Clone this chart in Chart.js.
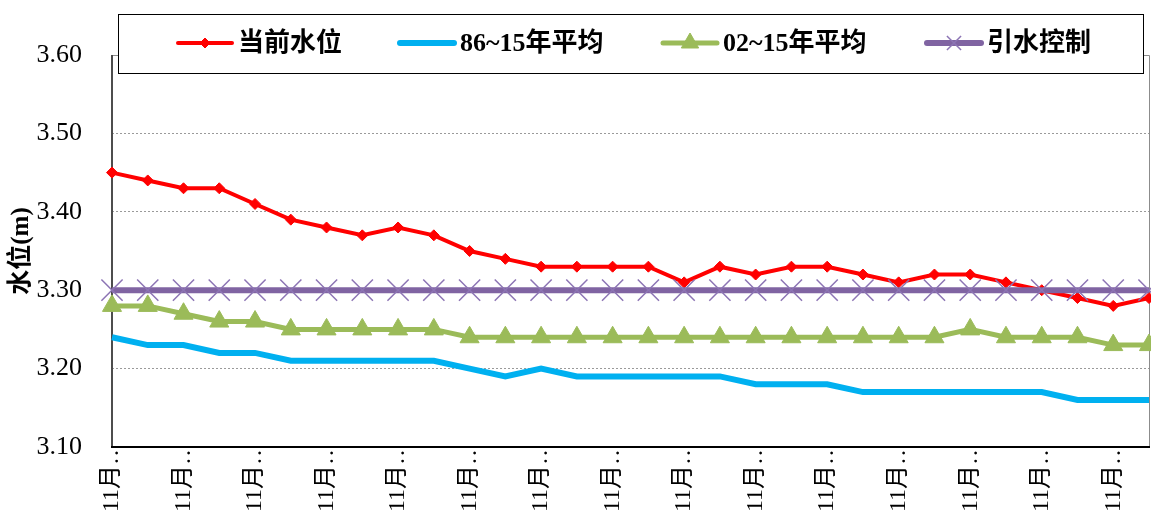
<!DOCTYPE html>
<html>
<head>
<meta charset="utf-8">
<script src="https://cdn.jsdelivr.net/npm/chart.js@4.4.0/dist/chart.umd.min.js"></script>
<style>
  html, body { margin: 0; padding: 0; background: #fff; }
  #wrap { width: 1151px; height: 513px; }
</style>
</head>
<body>
<div id="wrap"><canvas id="levelChart" width="1151" height="513"></canvas></div>
<script>
// 11月每日水位
const days = ['11月1日', '11月2日', '11月3日', '11月4日', '11月5日', '11月6日', '11月7日', '11月8日', '11月9日', '11月10日',
    '11月11日', '11月12日', '11月13日', '11月14日', '11月15日', '11月16日', '11月17日', '11月18日', '11月19日', '11月20日',
    '11月21日', '11月22日', '11月23日', '11月24日', '11月25日', '11月26日', '11月27日', '11月28日', '11月29日', '11月30日'];

const currentLevel = [3.45, 3.44, 3.43, 3.43, 3.41, 3.39, 3.38, 3.37, 3.38, 3.37,
    3.35, 3.34, 3.33, 3.33, 3.33, 3.33, 3.31, 3.33, 3.32, 3.33,
    3.33, 3.32, 3.31, 3.32, 3.32, 3.31, 3.30, 3.29, 3.28, 3.29];
const avg86to15 = [3.24, 3.23, 3.23, 3.22, 3.22, 3.21, 3.21, 3.21, 3.21, 3.21,
    3.20, 3.19, 3.20, 3.19, 3.19, 3.19, 3.19, 3.19, 3.18, 3.18,
    3.18, 3.17, 3.17, 3.17, 3.17, 3.17, 3.17, 3.16, 3.16, 3.16];
const avg02to15 = [3.28, 3.28, 3.27, 3.26, 3.26, 3.25, 3.25, 3.25, 3.25, 3.25,
    3.24, 3.24, 3.24, 3.24, 3.24, 3.24, 3.24, 3.24, 3.24, 3.24,
    3.24, 3.24, 3.24, 3.24, 3.25, 3.24, 3.24, 3.24, 3.23, 3.23];
const diversionLimit = [3.30, 3.30, 3.30, 3.30, 3.30, 3.30, 3.30, 3.30, 3.30, 3.30,
    3.30, 3.30, 3.30, 3.30, 3.30, 3.30, 3.30, 3.30, 3.30, 3.30,
    3.30, 3.30, 3.30, 3.30, 3.30, 3.30, 3.30, 3.30, 3.30, 3.30];

const seriesNames = ['当前水位', '86~15年平均', '02~15年平均', '引水控制'];

const SERIF = '"Liberation Serif", "Noto Sans CJK SC"';

// leyenda dibujada a mano dentro de un recuadro que pisa el área del gráfico
const LEGEND_X = [178, 400, 663, 927];
const LEGEND_R = [5, 0, 10, 10];

const boxLegend = {
    id: 'boxLegend',
    afterDraw(chart) {
        const ctx = chart.ctx;
        ctx.save();
        ctx.fillStyle = '#fff';
        ctx.fillRect(118.5, 14.5, 1025, 59);
        ctx.strokeStyle = '#000';
        ctx.lineWidth = 1;
        ctx.strokeRect(118.5, 14.5, 1025, 59);
        const y = 43;
        chart.data.datasets.forEach((ds, i) => {
            const x0 = LEGEND_X[i], x1 = x0 + 54;
            ctx.strokeStyle = ds.borderColor;
            ctx.lineWidth = ds.borderWidth;
            ctx.lineCap = 'round';
            ctx.beginPath();
            ctx.moveTo(x0, y);
            ctx.lineTo(x1, y);
            ctx.stroke();
            if (LEGEND_R[i] > 0) {
                ctx.lineCap = 'butt';
                ctx.fillStyle = ds.pointBackgroundColor;
                ctx.strokeStyle = ds.pointBorderColor;
                ctx.lineWidth = ds.pointBorderWidth;
                Chart.helpers.drawPoint(ctx, {
                    pointStyle: ds.pointStyle, radius: LEGEND_R[i], rotation: 0, borderWidth: ds.pointBorderWidth
                }, (x0 + x1) / 2, y);
            }
            ctx.fillStyle = '#000';
            ctx.font = 'bold 26px ' + SERIF;
            ctx.textAlign = 'left';
            ctx.textBaseline = 'middle';
            ctx.fillText(ds.label, x1 + 6, y + 1);
        });
        ctx.restore();
    }
};

// marco del área de trazado (ejes y borde gris)
const plotFrame = {
    id: 'plotFrame',
    beforeDatasetsDraw(chart) {
        const { ctx, chartArea: a } = chart;
        ctx.save();
        ctx.strokeStyle = '#8c8c8c';
        ctx.lineWidth = 1;
        ctx.beginPath();
        ctx.moveTo(a.left, a.top + 0.5);
        ctx.lineTo(a.right + 0.5, a.top + 0.5);
        ctx.lineTo(a.right + 0.5, a.bottom);
        ctx.stroke();
        ctx.strokeStyle = '#4d4d4d';
        ctx.lineWidth = 2;
        ctx.beginPath();
        ctx.moveTo(a.left, a.top);
        ctx.lineTo(a.left, a.bottom);
        ctx.stroke();
        ctx.strokeStyle = '#000';
        ctx.beginPath();
        ctx.moveTo(a.left - 1, a.bottom);
        ctx.lineTo(a.right + 1, a.bottom);
        ctx.stroke();
        ctx.restore();
    }
};

new Chart(document.getElementById('levelChart').getContext('2d'), {
    type: 'line',
    plugins: [plotFrame, boxLegend],
    data: {
        labels: days,
        datasets: [
            {
                label: seriesNames[0],
                data: currentLevel,
                borderColor: '#FF0000',
                backgroundColor: '#FF0000',
                borderWidth: 4,
                pointStyle: 'rectRot',
                pointRadius: 5.5,
                pointBackgroundColor: '#FF0000',
                pointBorderColor: '#FF0000',
                pointBorderWidth: 1,
                clip: false,
                order: 4
            },
            {
                label: seriesNames[1],
                data: avg86to15,
                borderColor: '#00B0F0',
                backgroundColor: '#00B0F0',
                borderWidth: 6,
                pointRadius: 0,
                pointBackgroundColor: '#00B0F0',
                pointBorderColor: '#00B0F0',
                pointBorderWidth: 0,
                clip: false,
                order: 3
            },
            {
                label: seriesNames[2],
                data: avg02to15,
                borderColor: '#9BBB59',
                backgroundColor: '#9BBB59',
                borderWidth: 5,
                pointStyle: 'triangle',
                pointRadius: 11,
                pointBackgroundColor: '#9BBB59',
                pointBorderColor: '#9BBB59',
                pointBorderWidth: 1,
                clip: false,
                order: 2
            },
            {
                label: seriesNames[3],
                data: diversionLimit,
                borderColor: '#8064A2',
                backgroundColor: '#8064A2',
                borderWidth: 6,
                pointStyle: 'crossRot',
                pointRadius: 15,
                pointBackgroundColor: '#8C74B4',
                pointBorderColor: '#8C74B4',
                pointBorderWidth: 1.5,
                clip: false,
                order: 1
            }
        ]
    },
    options: {
        responsive: false,
        animation: false,
        devicePixelRatio: 1,
        layout: { autoPadding: false, padding: { top: 55, right: 2, left: 0, bottom: 0 } },
        plugins: { legend: { display: false }, tooltip: { enabled: false } },
        elements: { line: { tension: 0 } },
        scales: {
            x: {
                offset: false,
                grid: { display: false, drawTicks: false },
                border: { display: false },
                ticks: {
                    autoSkip: false,
                    minRotation: 90,
                    maxRotation: 90,
                    padding: -6,
                    color: '#000',
                    font: { family: SERIF, size: 24 },
                    // etiqueta truncada cada dos días, como en el original
                    callback: function (value, index) {
                        return index % 2 === 0 ? this.getLabelForValue(value).slice(0, 3) + '…' : null;
                    }
                },
                afterFit: (s) => {
                    s.height = 66;
                    s.paddingLeft = 0;
                    s.paddingRight = 0;
                }
            },
            y: {
                min: 3.10,
                max: 3.60,
                grid: { color: '#9a9a9a', lineWidth: 1, drawTicks: false },
                border: { display: false, dash: [2, 2] },
                ticks: {
                    stepSize: 0.1,
                    padding: 30,
                    color: '#000',
                    font: { family: SERIF, size: 26 },
                    callback: (v) => v.toFixed(2)
                },
                title: {
                    display: true,
                    text: '水位(m)',
                    color: '#000',
                    padding: { top: 7, bottom: 0 },
                    font: { family: SERIF, size: 25, weight: 'bold' }
                },
                afterFit: (s) => { s.width = 112; }
            }
        }
    }
});
</script>
</body>
</html>
